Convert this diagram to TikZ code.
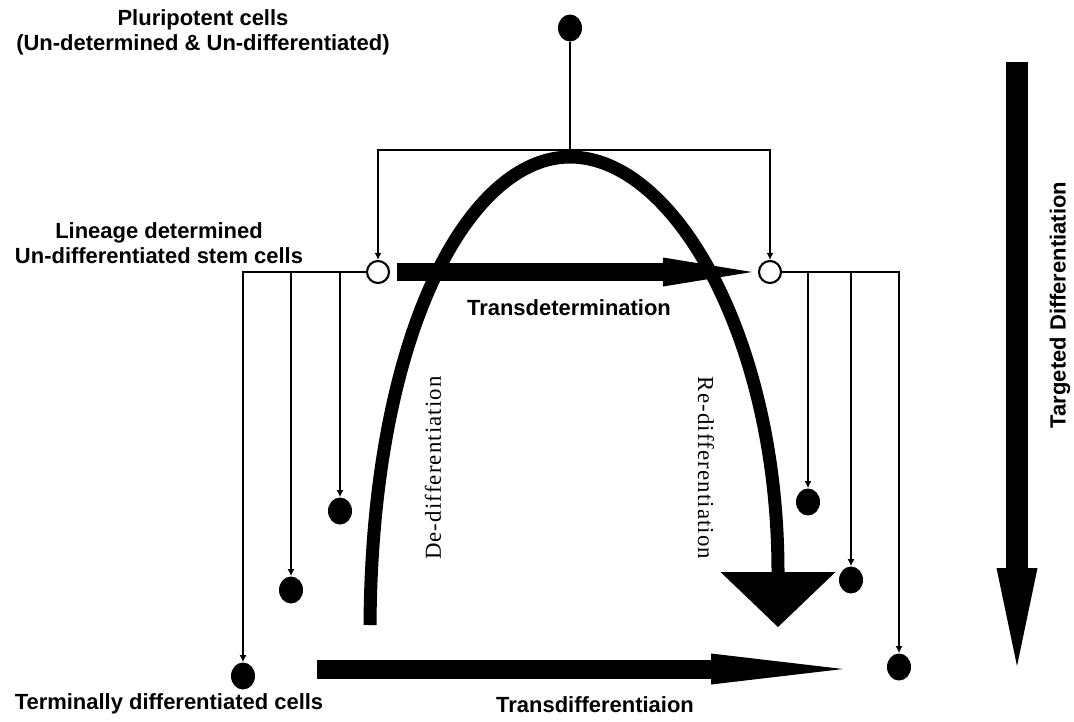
\documentclass[tikz,border=0pt]{standalone}
\usepackage{fontspec}
\setmainfont{Liberation Sans}
\newfontfamily\serifface[LetterSpace=5]{Liberation Serif}
\usetikzlibrary{shapes.geometric, arrows.meta}

\begin{document}
\begin{tikzpicture}[x=0.02cm, y=-0.02cm,
        cell/.style={ellipse, fill=black, minimum width=0.48cm, minimum height=0.54cm, inner sep=0},
        stem/.style={circle, draw, line width=1.2pt, fill=white, minimum size=0.44cm, inner sep=0},
        wire/.style={line width=1.1pt},
        tip/.style={wire, -{Latex[length=4pt, width=4pt]}},
        arc/.style={line width=0.26cm},
        label/.style={font=\fontsize{12.5}{14.2}\selectfont\bfseries, align=center},
        flow/.style={font=\serifface\fontsize{13}{13}\selectfont}
    ]
    \useasboundingbox (0,0) rectangle (1074,721);
    % Nodes
    \node[cell] (pluri) at (570,28) {};
    \node[stem] (lstem) at (378,272) {};
    \node[stem] (rstem) at (770,272) {};
    \node[cell] (lcell1) at (340,511) {};
    \node[cell] (lcell2) at (291,590) {};
    \node[cell] (lcell3) at (243,676) {};
    \node[cell] (rcell1) at (808,502) {};
    \node[cell] (rcell2) at (851,580) {};
    \node[cell] (rcell3) at (899,667) {};
    \coordinate (hub) at (570,150);
    \coordinate (lj1) at (340,272);
    \coordinate (lj2) at (291,272);
    \coordinate (rj1) at (808,272);
    \coordinate (rj2) at (851,272);
    \coordinate (peak) at (570,157);
    \coordinate (deStart) at (370,625);
    \coordinate (reEnd) at (778,627);
    \coordinate (tdStart) at (317,669);
    \coordinate (tdEnd) at (843,669);
    \coordinate (tgTop) at (1017,62);
    \coordinate (tgTip) at (1017,666);

    % Texts
    \node[label] (pluriText) at (203,32) {Pluripotent cells\\(Un-determined \& Un-differentiated)};
    \node[label] (stemText) at (159,243) {Lineage determined\\Un-differentiated stem cells};
    \node[label] (termText) at (169,704) {Terminally differentiated cells};
    \node[label] (tdetText) at (569,308) {Transdetermination};
    \node[label] (tdifText) at (595,705) {Transdifferentiaion};
    \node[label, rotate=90] (targText) at (1060,305) {Targeted Differentiation};
    \node[flow, rotate=90] (deText) at (433,468) {De-differentiation};
    \node[flow, rotate=-90] (reText) at (706,468) {Re-differentiation};

    % Lines
    \draw[wire] (pluri) -- (hub);
    \draw[tip] (hub) -| (lstem);
    \draw[tip] (hub) -| (rstem);
    \draw[tip] (lstem) -| (lcell3);
    \draw[tip] (lj2) -- (lcell2);
    \draw[tip] (lj1) -- (lcell1);
    \draw[tip] (rstem) -| (rcell3);
    \draw[tip] (rj2) -- (rcell2);
    \draw[tip] (rj1) -- (rcell1);

    % Arrows
    \draw[arc, -{Triangle[length=1.1cm, width=2.3cm, line width=0pt]}] (deStart) .. controls (372,330) and (470,157) .. (peak)
        .. controls (675,157) and (778,340) .. (reEnd);
    \draw[line width=0.36cm, -{Triangle[length=1.78cm, width=0.58cm, line width=0pt]}, shorten <=0.14cm, shorten >=0.12cm] (lstem) -- (rstem);
    \draw[line width=0.38cm, -{Triangle[length=2.64cm, width=0.62cm, line width=0pt]}] (tdStart) -- (tdEnd);
    \draw[line width=0.44cm, -{Triangle[length=1.96cm, width=0.82cm, line width=0pt]}] (tgTop) -- (tgTip);
\end{tikzpicture}
\end{document}
